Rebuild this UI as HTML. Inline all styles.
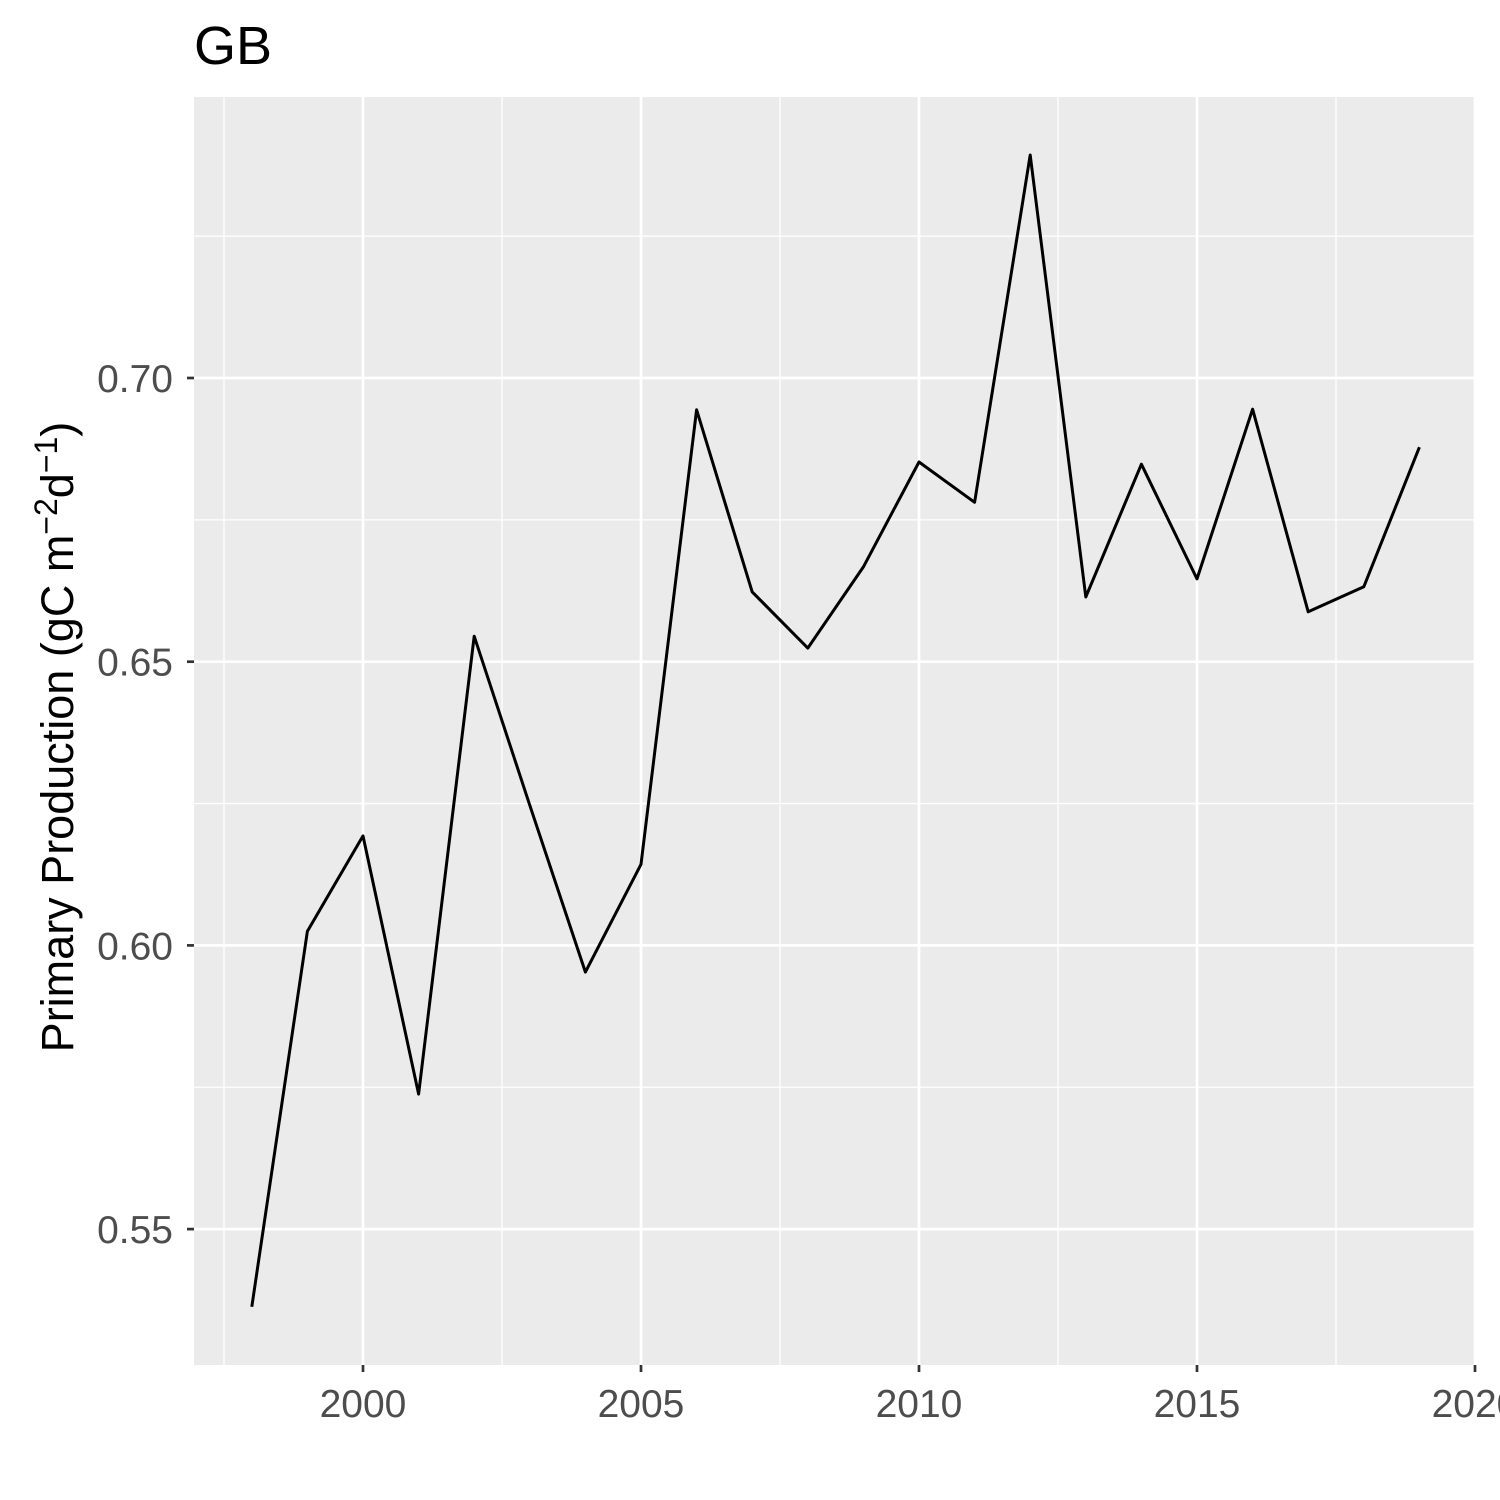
<!DOCTYPE html>
<html><head><meta charset="utf-8"><style>body{margin:0;background:#fff}svg{display:block;font-family:"Liberation Sans",Arial,sans-serif}</style></head>
<body>
<svg id="chart" width="1500" height="1500" viewBox="0 0 1500 1500">
<text x="194" y="64" font-size="54" fill="#000">GB</text>
<rect x="194" y="97" width="1281" height="1268" fill="#ebebeb"/>
<g id="grid"></g>
<g id="axes"></g>
<path id="series" fill="none" stroke="#000" stroke-width="3" stroke-linejoin="round"/>
<text transform="translate(73,737) rotate(-90)" text-anchor="middle" font-size="45" fill="#000">Primary Production (gC m<tspan dy="-16" font-size="32">−2</tspan><tspan dy="16">d</tspan><tspan dy="-16" font-size="32">−1</tspan><tspan dy="16">)</tspan></text>
</svg>
<script>
const years=[1998,1999,2000,2001,2002,2003,2004,2005,2006,2007,2008,2009,2010,2011,2012,2013,2014,2015,2016,2017,2018,2019];
const values=[0.5363,0.6025,0.6193,0.5738,0.6545,0.6247,0.5953,0.6143,0.6944,0.6623,0.6524,0.6667,0.6852,0.6781,0.7393,0.6614,0.6848,0.6646,0.6945,0.6588,0.6632,0.6878];
const xTicks=[2000,2005,2010,2015,2020];
const xMinor=[1997.5,2002.5,2007.5,2012.5,2017.5];
const yTicks=[0.55,0.60,0.65,0.70];
const yLabels=["0.55","0.60","0.65","0.70"];
const yMinor=[0.575,0.625,0.675,0.725];
const NS="http://www.w3.org/2000/svg";
const x=v=>363+(v-2000)*55.6;
const y=v=>378-(v-0.70)*5674;
const grid=document.getElementById('grid'),axes=document.getElementById('axes');
function ln(p,x1,y1,x2,y2,c,w){const l=document.createElementNS(NS,'line');l.setAttribute('x1',x1);l.setAttribute('y1',y1);l.setAttribute('x2',x2);l.setAttribute('y2',y2);l.setAttribute('stroke',c);l.setAttribute('stroke-width',w);p.appendChild(l);return l;}
function tx(p,xx,yy,s,a){const t=document.createElementNS(NS,'text');t.setAttribute('x',xx);t.setAttribute('y',yy);t.setAttribute('text-anchor',a);t.setAttribute('font-size','39');t.setAttribute('fill','#4d4d4d');t.textContent=s;p.appendChild(t);return t;}
xMinor.forEach(v=>{const l=ln(grid,x(v),97,x(v),1365,'#fff',1.3);

});
yMinor.forEach(v=>{const l=ln(grid,194,y(v),1475,y(v),'#fff',1.3);

});
xTicks.forEach(v=>{const l=ln(grid,x(v),97,x(v),1365,'#fff',2.7);


const k=ln(axes,x(v),1365,x(v),1372,'#333',2.7);


const t=tx(axes,x(v),1417,String(v),'middle');

});
yTicks.forEach((v,i)=>{const l=ln(grid,194,y(v),1475,y(v),'#fff',2.7);


const k=ln(axes,187,y(v),194,y(v),'#333',2.7);


const t=tx(axes,173,y(v)+14,yLabels[i],'end');

});
document.getElementById('series').setAttribute('d',years.map((yr,i)=>(i?'L':'M')+x(yr).toFixed(1)+','+y(values[i]).toFixed(1)).join(''));
</script>
</body></html>
